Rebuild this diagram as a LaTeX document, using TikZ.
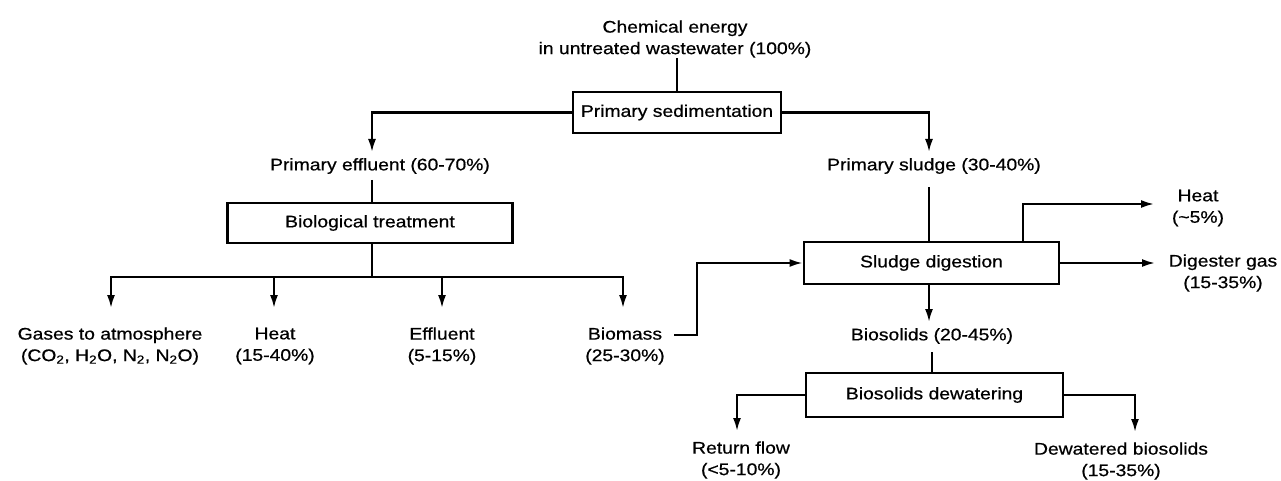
\documentclass[tikz,border=0pt]{standalone}
\usepackage{fontspec}
\setmainfont{Liberation Sans}[FakeStretch=1.15,FakeBold=0.6]
\usepackage{tikz}
\usetikzlibrary{arrows,arrows.meta}

\tikzset{
	proc/.style={draw,line width=2.8pt,inner sep=0pt,align=center},
	lbl/.style={inner sep=0pt,align=center},
	flow/.style={line width=2.1pt},
	flowarr/.style={line width=2.1pt,-{Latex[length=13pt,width=8pt]}}
}

\begin{document}
\begin{tikzpicture}[x=1pt,y=-1pt,font=\fontsize{16.8}{21.5}\selectfont] % 单位: 1pt = 1 像素
				\useasboundingbox (0,0) rectangle (1281,481);
				\node[lbl](E0) at (675,39) {Chemical energy\\in untreated wastewater (100\%)};
				\node[proc,minimum width=208pt,minimum height=41pt](PS) at (677,112.5) {Primary sedimentation};
				\node[lbl](PE) at (380,166) {Primary effluent (60-70\%)};
				\node[lbl](PSL) at (934,166) {Primary sludge (30-40\%)};
				\node[proc,minimum width=285pt,minimum height=40pt](BT) at (370,223) {Biological treatment};
				\node[lbl](G) at (110,346) {Gases to atmosphere\\(CO\textsubscript{2}, H\textsubscript{2}O, N\textsubscript{2}, N\textsubscript{2}O)};
				\node[lbl](H1) at (275,346) {Heat\\(15-40\%)};
				\node[lbl](EF) at (442,346) {Effluent\\(5-15\%)};
				\node[lbl](BM) at (625,346) {Biomass\\(25-30\%)};
				\node[proc,minimum width=255pt,minimum height=42pt](SD) at (931.5,263) {Sludge digestion};
				\node[lbl](H2) at (1198,208) {Heat\\(\textasciitilde5\%)};
				\node[lbl](DG) at (1223,273) {Digester gas\\(15-35\%)};
				\node[lbl](BS) at (932,336) {Biosolids (20-45\%)};
				\node[proc,minimum width=257pt,minimum height=44pt](BD) at (934.5,395) {Biosolids dewatering};
				\node[lbl](RF) at (741,460) {Return flow\\(\textless5-10\%)};
				\node[lbl](DB) at (1121,461) {Dewatered biosolids\\(15-35\%)};
				\coordinate(BMO) at (674,335);
				% 连线
				\draw[flow] (E0.south -| PS.north) -- (PS.north);
				\draw[flowarr] (PS.west) -| (372,152);
				\draw[flowarr] (PS.east) -| (929,152);
				\draw[flow] (372,180) -- (372,203);
				\draw[flow] (372,243) -- (372,277);
				\draw[flowarr] (372,277) -| (111,308);
				\draw[flowarr] (274,277) -- (274,308);
				\draw[flowarr] (442,277) -- (442,308);
				\draw[flowarr] (372,277) -| (623,308);
				\draw[flowarr] (BMO) -- (697,335) |- (SD.west);
				\draw[flow] (929,187) -- (929,242);
				\draw[flowarr] (1023,242) |- (1154,204);
				\draw[flowarr] (SD.east) -- (1155,263);
				\draw[flowarr] (929,284) -- (929,322);
				\draw[flow] (932,352) -- (932,373);
				\draw[flowarr] (BD.west) -| (737,431);
				\draw[flowarr] (BD.east) -| (1135,432);
			\end{tikzpicture}
\end{document}
